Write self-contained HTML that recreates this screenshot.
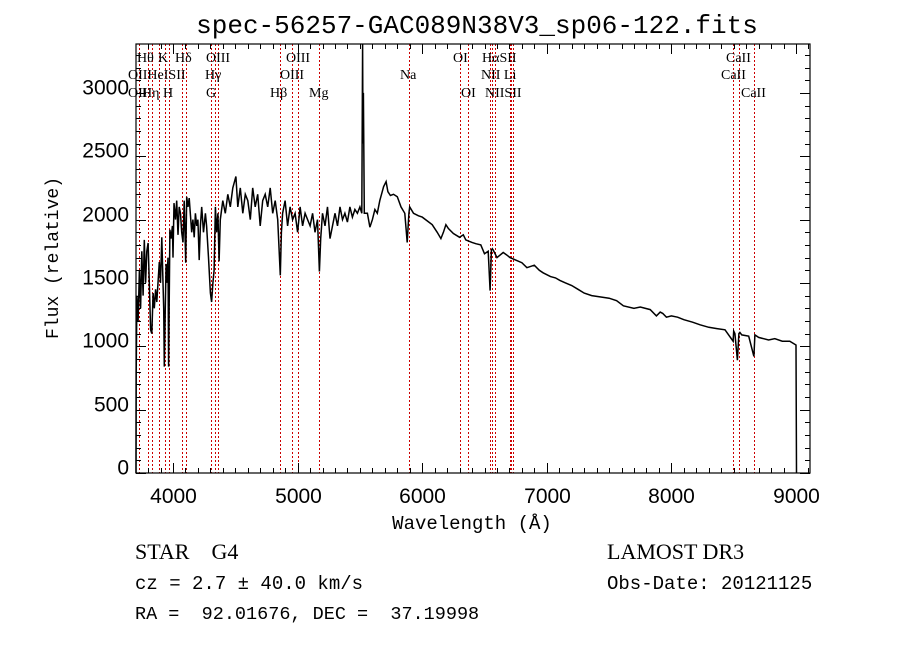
<!DOCTYPE html>
<html><head><meta charset="utf-8"><style>
body{margin:0;background:#fff;}
svg{display:block;}
.mono{font-family:"Liberation Mono",monospace;}
.ser{font-family:"Liberation Serif",serif;}
.sans{font-family:"Liberation Sans",sans-serif;}
</style></head><body>
<svg id="chart" width="900" height="649" viewBox="0 0 900 649">
<rect x="0" y="0" width="900" height="649" fill="#fff"/>
<text x="477" y="33" text-anchor="middle" class="mono" font-size="26">spec-56257-GAC089N38V3_sp06-122.fits</text>
<text transform="translate(58,258) rotate(-90)" text-anchor="middle" class="mono" font-size="18">Flux (relative)</text>
<text x="472" y="529" text-anchor="middle" class="mono" font-size="19">Wavelength (Å)</text>
<g id="lines"></g>
<g id="labels"></g>
<g id="ticks"></g>
<g id="spec"></g>
<rect x="136" y="44" width="674" height="429" fill="none" stroke="#000" stroke-width="1.2"/>
<text x="135" y="559" class="ser" font-size="22" xml:space="preserve">STAR    G4</text>
<text x="135" y="589" class="mono" font-size="19">cz = 2.7 ± 40.0 km/s</text>
<text x="135" y="619" class="mono" font-size="18.5" xml:space="preserve">RA =  92.01676, DEC =  37.19998</text>
<text x="607" y="559" class="ser" font-size="22">LAMOST DR3</text>
<text x="607" y="589" class="mono" font-size="19">Obs-Date: 20121125</text>
</svg>
<script>
const wavelengths=[3703,3705,3710,3720,3730,3740,3750,3760,3770,3780,3790,3800,3810,3820,3830,3840,3850,3860,3870,3880,3890,3900,3910,3920,3925,3930,3940,3945,3950,3960,3965,3975,3985,3995,4000,4008,4020,4030,4040,4050,4060,4070,4080,4090,4102,4110,4120,4130,4150,4160,4170,4180,4190,4200,4210,4220,4230,4245,4260,4270,4285,4300,4310,4320,4330,4340,4350,4360,4370,4380,4400,4420,4440,4460,4480,4505,4520,4540,4560,4580,4600,4620,4640,4660,4680,4700,4720,4740,4760,4780,4800,4820,4840,4861,4870,4880,4900,4920,4940,4960,4980,5000,5020,5040,5060,5080,5100,5120,5140,5160,5175,5185,5200,5220,5240,5260,5280,5300,5320,5340,5360,5380,5400,5420,5440,5460,5480,5500,5515,5522,5525,5528,5535,5560,5580,5600,5620,5640,5660,5690,5710,5725,5745,5770,5800,5830,5860,5880,5893,5900,5930,5970,6000,6040,6080,6120,6150,6170,6190,6210,6250,6300,6330,6350,6400,6430,6470,6500,6530,6545,6555,6563,6570,6600,6650,6680,6705,6750,6800,6840,6900,6940,6970,7030,7070,7105,7150,7200,7250,7300,7360,7427,7500,7560,7615,7700,7750,7830,7880,7910,7930,7960,8000,8050,8100,8170,8230,8300,8365,8430,8495,8500,8510,8530,8542,8550,8565,8620,8662,8670,8700,8780,8830,8890,8950,9000,9002,9004];
const fluxValues=[0,800,1400,1200,1600,1300,1750,1400,1840,1500,1750,1815,1500,1130,1100,1420,1300,1450,1350,1500,1665,1500,1860,1500,1300,840,1400,1650,1500,1700,840,1920,1850,1950,1700,2130,2000,2150,1880,2100,2050,1900,1820,2150,1660,2180,2100,2170,1900,2000,1860,2050,1950,2000,1680,1950,2100,1900,2050,1950,1700,1420,1350,1500,1600,2100,1900,2050,1670,2000,2150,2050,2200,2100,2250,2340,2100,2250,2050,2200,2150,2000,2250,2100,2200,1950,2150,2200,2100,2250,2050,2150,2000,1560,1900,2050,2150,1950,2100,2000,2050,1900,2100,1950,2050,2000,1950,2050,1900,2000,1590,1850,2050,1950,2100,1850,1950,2050,1950,2100,2000,2050,1980,2100,2020,2080,2050,2100,2050,3390,2600,3000,2050,2050,1940,2000,2080,2050,2150,2260,2300,2220,2190,2200,2180,2100,2050,1820,2050,2100,2050,2030,2020,1990,1960,1900,1850,1900,1960,1930,1890,1860,1880,1840,1820,1810,1800,1730,1750,1440,1760,1770,1760,1700,1740,1720,1700,1680,1660,1620,1640,1600,1580,1550,1540,1520,1500,1480,1450,1420,1400,1390,1380,1360,1320,1300,1310,1290,1240,1270,1260,1230,1240,1230,1210,1190,1170,1150,1140,1130,1040,1120,1100,890,1100,1110,1090,1080,920,1090,1070,1050,1060,1040,1040,1010,600,0];
const lineWaves=[3727,3798,3835,3889,3934,3968,4072,4102,4304,4340,4363,4861,4959,5007,5175,5893,6300,6364,6548,6563,6583,6708,6716,6731,8498,8542,8662];
const labelTexts=["Hθ","K","Hδ","OIII","OIII","OI","HαSII","CaII","OIIHeISII","Hγ","OIII","Na","NII Li","CaII","OII","Hη","H","G","Hβ","Mg","OI","NIISII","CaII"];
const labelX=[137,158,175,206,286,453,482,726,128,205,280,400,481,721,128,142,163,206,270,309,461,485,741];
const labelRow=[0,0,0,0,0,0,0,0,1,1,1,1,1,1,2,2,2,2,2,2,2,2,2];
const NS='http://www.w3.org/2000/svg';
function xs(l){return 173+(l-4000)*0.1246;}
function ys(v){return 473-v*0.1267;}
function mk(t,a,p){const e=document.createElementNS(NS,t);for(const k in a)e.setAttribute(k,a[k]);p.appendChild(e);return e;}
const gl=document.getElementById('lines');
lineWaves.forEach(w=>{const x=Math.round(xs(w))+0.5;
const e=mk('line',{x1:x,x2:x,y1:44,y2:473,stroke:'#cc0000','stroke-width':1,'stroke-dasharray':'2,2'},gl);

});
const glab=document.getElementById('labels');
const rowY=[62,79,97];
labelTexts.forEach((t,i)=>{const e=mk('text',{x:labelX[i],y:rowY[labelRow[i]],'font-size':14,class:'ser'},glab);e.textContent=t;

});
const gt=document.getElementById('ticks');
for(let l=3800;l<=9100;l+=100){const x=Math.round(xs(l))+0.5;const maj=l%1000===0;const h=maj?10:5;
mk('line',{x1:x,x2:x,y1:473,y2:473-h,stroke:'#000'},gt);
mk('line',{x1:x,x2:x,y1:44,y2:44+h,stroke:'#000'},gt);
if(maj){const e=mk('text',{x:x,y:503,'text-anchor':'middle','font-size':21,class:'sans'},gt);e.textContent=l;

}}
for(let v=0;v<=3300;v+=100){const y=Math.round(ys(v))+0.5;const maj=v%500===0;const h=maj?10:5;
mk('line',{x1:136,x2:136+h,y1:y,y2:y,stroke:'#000'},gt);
mk('line',{x1:810,x2:810-h,y1:y,y2:y,stroke:'#000'},gt);
if(maj){const e=mk('text',{x:129,y:y+1,'text-anchor':'end','font-size':21,class:'sans'},gt);e.textContent=v;

}}
const gs=document.getElementById('spec');
const pts=wavelengths.map((w,i)=>xs(w).toFixed(1)+','+Math.max(44,ys(fluxValues[i])).toFixed(1)).join(' ');
const pl=mk('polyline',{points:pts,fill:'none',stroke:'#000','stroke-width':1.5},gs);


</script>
</body></html>
